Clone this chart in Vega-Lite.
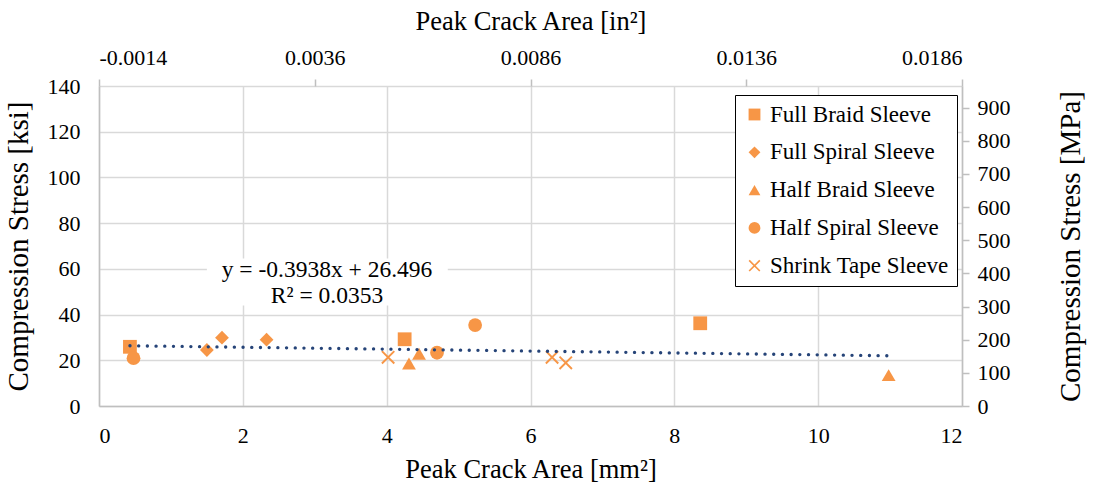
{
  "$schema": "https://vega.github.io/schema/vega-lite/v6.json",
  "width": 863,
  "height": 320,
  "autosize": {"type": "none"},
  "padding": {"left": 99, "top": 86, "right": 133, "bottom": 84},
  "background": "white",
  "config": {
    "view": {"stroke": null},
    "font": "Liberation Serif, serif",
    "style": {
      "guide-label": {"font": "Liberation Serif, serif", "fill": "#000000"},
      "guide-title": {"font": "Liberation Serif, serif", "fill": "#000000"}
    },
    "axis": {
      "labelFont": "Liberation Serif, serif",
      "titleFont": "Liberation Serif, serif",
      "labelFontSize": 22,
      "labelColor": "#000000",
      "titleColor": "#000000",
      "titleFontWeight": "normal",
      "gridColor": "#D9D9D9",
      "gridWidth": 1.5,
      "domainColor": "#BFBFBF",
      "domainWidth": 1.5,
      "tickColor": "#BFBFBF",
      "tickWidth": 1.5
    }
  },
  "datasets": {
    "pts": [
      {"sleeve": "Full Braid Sleeve", "area_mm2": 0.43, "stress_ksi": 25.9, "area_in2": 0.000667, "stress_mpa": 178.6},
      {"sleeve": "Full Braid Sleeve", "area_mm2": 4.25, "stress_ksi": 29.2, "area_in2": 0.006588, "stress_mpa": 201.3},
      {"sleeve": "Full Braid Sleeve", "area_mm2": 8.36, "stress_ksi": 36.2, "area_in2": 0.012958, "stress_mpa": 249.6},
      {"sleeve": "Full Spiral Sleeve", "area_mm2": 1.5, "stress_ksi": 24.5, "area_in2": 0.002325, "stress_mpa": 168.9},
      {"sleeve": "Full Spiral Sleeve", "area_mm2": 1.71, "stress_ksi": 29.9, "area_in2": 0.002651, "stress_mpa": 206.2},
      {"sleeve": "Full Spiral Sleeve", "area_mm2": 2.33, "stress_ksi": 29.0, "area_in2": 0.003612, "stress_mpa": 199.9},
      {"sleeve": "Half Braid Sleeve", "area_mm2": 4.31, "stress_ksi": 18.6, "area_in2": 0.006681, "stress_mpa": 128.2},
      {"sleeve": "Half Braid Sleeve", "area_mm2": 4.45, "stress_ksi": 22.9, "area_in2": 0.006898, "stress_mpa": 157.9},
      {"sleeve": "Half Braid Sleeve", "area_mm2": 10.98, "stress_ksi": 13.5, "area_in2": 0.017019, "stress_mpa": 93.1},
      {"sleeve": "Half Spiral Sleeve", "area_mm2": 0.48, "stress_ksi": 20.9, "area_in2": 0.000744, "stress_mpa": 144.1},
      {"sleeve": "Half Spiral Sleeve", "area_mm2": 4.7, "stress_ksi": 23.3, "area_in2": 0.007285, "stress_mpa": 160.6},
      {"sleeve": "Half Spiral Sleeve", "area_mm2": 5.23, "stress_ksi": 35.4, "area_in2": 0.008107, "stress_mpa": 244.1},
      {"sleeve": "Shrink Tape Sleeve", "area_mm2": 4.02, "stress_ksi": 21.3, "area_in2": 0.006231, "stress_mpa": 146.9},
      {"sleeve": "Shrink Tape Sleeve", "area_mm2": 6.3, "stress_ksi": 21.3, "area_in2": 0.009765, "stress_mpa": 146.9},
      {"sleeve": "Shrink Tape Sleeve", "area_mm2": 6.49, "stress_ksi": 18.9, "area_in2": 0.010059, "stress_mpa": 130.3}
    ]
  },
  "layer": [
    {
      "layer": [
        {
          "data": {"name": "pts"},
          "mark": {"type": "point", "filled": true, "color": "#F79646", "opacity": 1, "size": 190},
          "encoding": {
            "x": {
              "field": "area_mm2", "type": "quantitative",
              "scale": {"domain": [0, 12], "nice": false, "zero": false},
              "axis": {
                "orient": "bottom", "title": "Peak Crack Area [mm²]",
                "values": [0, 2, 4, 6, 8, 10, 12], "format": "d",
                "labelFont": "Liberation Serif, serif", "labelFontSize": 22,
                "titleFont": "Liberation Serif, serif", "titleFontSize": 26.5,
                "grid": true, "ticks": false, "tickSize": 0,
                "labelPadding": 19, "titlePadding": 10
              }
            },
            "y": {
              "field": "stress_ksi", "type": "quantitative",
              "scale": {"domain": [0, 140], "nice": false},
              "axis": {
                "orient": "left", "title": "Compression Stress [ksi]",
                "values": [0, 20, 40, 60, 80, 100, 120, 140], "format": "d",
                "labelFont": "Liberation Serif, serif", "labelFontSize": 22,
                "titleFont": "Liberation Serif, serif", "titleFontSize": 29,
                "grid": true, "ticks": false, "tickSize": 0,
                "labelPadding": 19, "titlePadding": 14
              }
            },
            "shape": {
              "field": "sleeve", "type": "nominal",
              "scale": {
                "domain": ["Full Braid Sleeve", "Full Spiral Sleeve", "Half Braid Sleeve", "Half Spiral Sleeve", "Shrink Tape Sleeve"],
                "range": ["square", "diamond", "triangle-up", "circle", "M-1,-0.8L-0.8,-1L1,0.8L0.8,1ZM-1,0.8L0.8,-1L1,-0.8L-0.8,1Z"]
              },
              "legend": {
                "orient": "none", "legendX": 636, "legendY": 9,
                "title": null,
                "strokeColor": "#000000",
                "fillColor": "#FFFFFF",
                "padding": 8,
                "rowPadding": 13.8,
                "labelFont": "Liberation Serif, serif",
                "labelFontSize": 23,
                "labelColor": "#000000",
                "labelLimit": 400,
                "labelOffset": 4,
                "symbolSize": 140,
                "symbolFillColor": "#F79646",
                "symbolStrokeColor": "#F79646",
                "symbolStrokeWidth": 0,
                "symbolOpacity": 1
              }
            }
          }
        },
        {
          "data": {"name": "pts"},
          "transform": [{"regression": "stress_ksi", "on": "area_mm2"}],
          "mark": {"type": "line", "color": "#264478", "strokeWidth": 3.3, "strokeDash": [0.1, 8.6], "strokeCap": "round"},
          "encoding": {
            "x": {"field": "area_mm2", "type": "quantitative"},
            "y": {"field": "stress_ksi", "type": "quantitative"}
          }
        },
        {
          "data": {"values": [{}]},
          "mark": {"type": "rect", "fill": "#FFFFFF"},
          "encoding": {
            "x": {"datum": 1.5, "type": "quantitative"},
            "x2": {"datum": 4.85},
            "y": {"datum": 44.0, "type": "quantitative"},
            "y2": {"datum": 64.5}
          }
        },
        {
          "data": {"values": [{}]},
          "mark": {"type": "text", "text": "y = -0.3938x + 26.496", "font": "Liberation Serif, serif", "fontSize": 23.5, "color": "#000000", "align": "center", "baseline": "middle"},
          "encoding": {
            "x": {"datum": 3.17, "type": "quantitative"},
            "y": {"datum": 59.3, "type": "quantitative"}
          }
        },
        {
          "data": {"values": [{}]},
          "mark": {"type": "text", "text": "R² = 0.0353", "font": "Liberation Serif, serif", "fontSize": 23.5, "color": "#000000", "align": "center", "baseline": "middle"},
          "encoding": {
            "x": {"datum": 3.17, "type": "quantitative"},
            "y": {"datum": 48.2, "type": "quantitative"}
          }
        }
      ]
    },
    {
      "data": {"name": "pts"},
      "mark": {"type": "point", "opacity": 0},
      "encoding": {
        "x": {
          "field": "area_in2", "type": "quantitative",
          "scale": {"domain": [-0.0014, 0.0186], "nice": false, "zero": false},
          "axis": {
            "orient": "top", "title": "Peak Crack Area [in²]",
            "values": [-0.0014, 0.0036, 0.0086, 0.0136, 0.0186],
            "labelExpr": "datum.value < 0 ? '-' + format(-datum.value, '.4f') : format(datum.value, '.4f')",
            "labelFont": "Liberation Serif, serif", "labelFontSize": 22,
            "titleFont": "Liberation Serif, serif", "titleFontSize": 26.5,
            "grid": false, "domain": false, "ticks": true, "tickSize": 7,
            "labelPadding": 10, "titlePadding": 11
          }
        },
        "y": {
          "field": "stress_mpa", "type": "quantitative",
          "scale": {"domain": [0, 965.27], "nice": false},
          "axis": {
            "orient": "right", "title": "Compression Stress [MPa]",
            "values": [0, 100, 200, 300, 400, 500, 600, 700, 800, 900], "format": "d",
            "labelFont": "Liberation Serif, serif", "labelFontSize": 22,
            "titleFont": "Liberation Serif, serif", "titleFontSize": 29,
            "titleAngle": 270, "titleBaseline": "top",
            "grid": false, "domain": true, "ticks": true, "tickSize": 7,
            "labelPadding": 8, "titlePadding": 46
          }
        }
      }
    }
  ],
  "resolve": {"scale": {"x": "independent", "y": "independent"}}
}
